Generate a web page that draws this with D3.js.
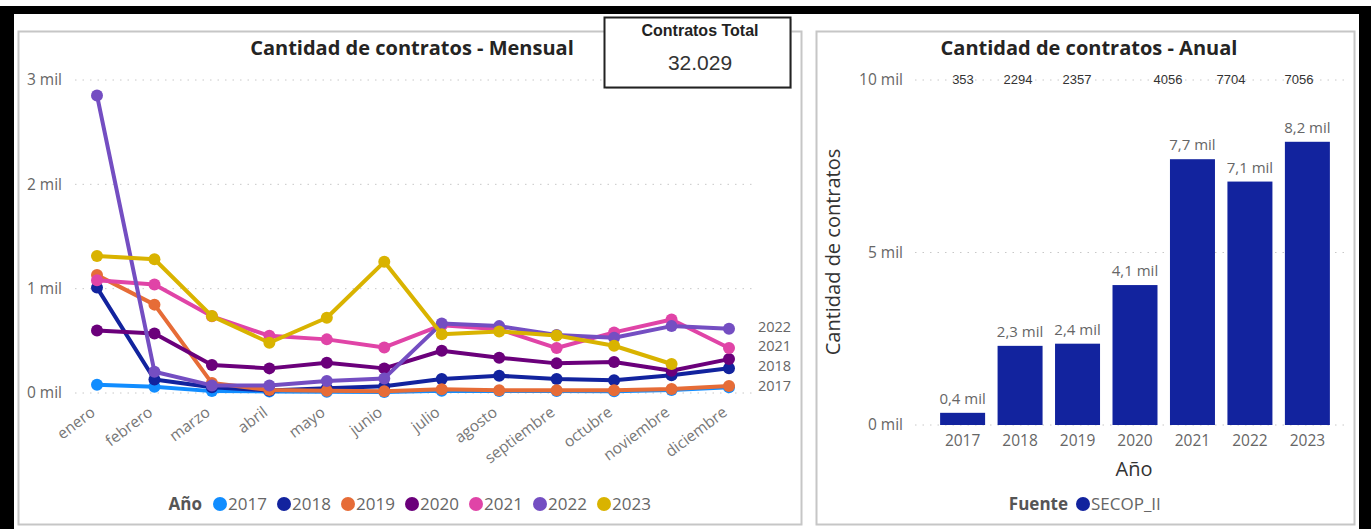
<!DOCTYPE html>
<html>
<head>
<meta charset="utf-8">
<script src="https://cdn.jsdelivr.net/npm/d3@7"></script>
<style>
body { margin: 0; background: #fff; }
text { font-family: "Open Sans", "Segoe UI", sans-serif; }
</style>
</head>
<body>
<svg id="tablero"></svg>
<script>

// datos
let meses = ["enero", "febrero", "marzo", "abril", "mayo", "junio", "julio",
  "agosto", "septiembre", "octubre", "noviembre", "diciembre"];
let anios = ["2017", "2018", "2019", "2020", "2021", "2022", "2023"];
let colores = ["#118DFF", "#12239E", "#E66C37", "#6B007B", "#E044A7", "#744EC2", "#D9B300"];

let m2017 = [80, 60, 18, 15, 12, 10, 22, 18, 18, 16, 28, 56];
let m2018 = [1010, 130, 55, 25, 45, 65, 135, 165, 135, 122, 170, 237];
let m2019 = [1130, 847, 95, 29, 22, 16, 35, 26, 26, 26, 38, 67];
let m2020 = [600, 571, 268, 236, 290, 236, 405, 338, 284, 297, 214, 325];
let m2021 = [1081, 1040, 735, 548, 514, 437, 650, 612, 431, 581, 705, 431];
let m2022 = [2852, 204, 73, 73, 115, 140, 667, 641, 555, 530, 641, 615];
let m2023 = [1314, 1282, 737, 482, 721, 1257, 562, 590, 552, 453, 278, null];

let totales = [353, 2294, 2357, 4056, 7704, 7056, 8209];
let filaSuperior = [353, 2294, 2357, 4056, 7704, 7056];
let etiquetasFin = ["2022", "2021", "2018", "2017"];
let ticksMensual = [0, 1000, 2000, 3000];
let ticksAnual = [0, 5000, 10000];

let series = [m2017, m2018, m2019, m2020, m2021, m2022, m2023];

let es = d3.formatLocale({decimal: ",", thousands: ".", grouping: [3], currency: ["$", ""]});
let fmtMil = v => es.format(".0f")(v / 1000) + " mil";
let fmtMilDec = v => es.format(".1f")(v / 1000) + " mil";

let svg = d3.select("#tablero")
  .attr("width", 1371)
  .attr("height", 529);

// marco negro
svg.append("rect").attr("x", 0).attr("y", 6).attr("width", 1371).attr("height", 523).attr("fill", "#000");
svg.append("rect").attr("x", 14).attr("y", 14).attr("width", 1345).attr("height", 515).attr("fill", "#fff");

// paneles
svg.append("rect").attr("x", 18.5).attr("y", 31.5).attr("width", 783).attr("height", 493)
  .attr("fill", "#fff").attr("stroke", "#c6c6c6").attr("stroke-width", 2);
svg.append("rect").attr("x", 816.5).attr("y", 31.5).attr("width", 538).attr("height", 493)
  .attr("fill", "#fff").attr("stroke", "#c6c6c6").attr("stroke-width", 2);

function titulo(txt, x)
{
  svg.append("text")
    .attr("x", x).attr("y", 55)
    .attr("text-anchor", "middle")
    .style("font-size", "20px")
    .style("font-weight", "bold")
    .style("fill", "#252423")
    .text(txt);
}

// ---------- grafico mensual ----------
let x = d3.scalePoint().domain(meses).range([97, 729]);
let y = d3.scaleLinear().domain([0, 3000]).range([393, 80]);

let gIzq = svg.append("g");

gIzq.selectAll(".grid")
  .data(ticksMensual)
  .enter().append("line")
  .attr("x1", 75).attr("x2", 752)
  .attr("y1", d => y(d)).attr("y2", d => y(d))
  .attr("stroke", "#c8c8c8")
  .attr("stroke-dasharray", "1.5,6");

gIzq.selectAll(".ytick")
  .data(ticksMensual)
  .enter().append("text")
  .attr("x", 62).attr("y", d => y(d))
  .attr("dy", "0.35em")
  .attr("text-anchor", "end")
  .style("font-size", "15.5px")
  .style("fill", "#666")
  .text(fmtMil);

gIzq.selectAll(".xtick")
  .data(meses)
  .enter().append("text")
  .attr("transform", d => `translate(${x(d) - 4}, ${y(0) + 17}) rotate(-37)`)
  .attr("text-anchor", "end")
  .attr("dy", "0.35em")
  .style("font-size", "15.5px")
  .style("fill", "#777")
  .text(d => d);

titulo("Cantidad de contratos - Mensual", 412);

let linea = d3.line()
  .defined(d => d != null)
  .x((d, i) => x(meses[i]))
  .y(d => y(d));

let gSerie = gIzq.selectAll(".serie")
  .data(series)
  .enter().append("g")
  .attr("class", "serie");

gSerie.append("path")
  .attr("d", d => linea(d))
  .attr("fill", "none")
  .attr("stroke", (d, i) => colores[i])
  .attr("stroke-width", 4)
  .attr("stroke-linejoin", "round");

gSerie.each(function(d, i) {
  d3.select(this).selectAll("circle")
    .data(d.map((v, j) => ({v: v, mes: meses[j]})).filter(p => p.v != null))
    .enter().append("circle")
    .attr("cx", p => x(p.mes))
    .attr("cy", p => y(p.v))
    .attr("r", 6)
    .attr("fill", colores[i]);
});

// etiquetas al final de la linea, separadas para que no se pisen
let finPos = etiquetasFin.map(d => {
  let s = series[anios.indexOf(d)];
  return {anio: d, y: y(s[s.length - 1]) - 2};
}).sort((a, b) => a.y - b.y);
for (let i = 1; i < finPos.length; i++) {
  if (finPos[i].y < finPos[i - 1].y + 19.5)
    finPos[i].y = finPos[i - 1].y + 19.5;
}

gIzq.selectAll(".fin")
  .data(finPos)
  .enter().append("text")
  .attr("x", 758)
  .attr("y", d => d.y)
  .attr("dy", "0.35em")
  .style("font-size", "14.5px")
  .style("fill", "#666")
  .text(d => d.anio);

// leyenda
gIzq.append("text")
  .attr("x", 202).attr("y", 504).attr("dy", "0.35em")
  .attr("text-anchor", "end")
  .style("font-size", "17px").style("font-weight", "bold").style("fill", "#555")
  .text("Año");

let leg = gIzq.selectAll(".leg")
  .data(anios)
  .enter().append("g")
  .attr("transform", (d, i) => `translate(${220 + i * 64}, 504)`);
leg.append("circle").attr("r", 7).attr("fill", (d, i) => colores[i]);
leg.append("text")
  .attr("x", 8).attr("dy", "0.35em")
  .style("font-size", "17px").style("fill", "#666")
  .text(d => d);

// ---------- tarjeta total ----------
svg.append("rect")
  .attr("x", 606).attr("y", 19).attr("width", 186).attr("height", 70)
  .attr("fill", "#bbb").attr("opacity", 0.5);
svg.append("rect")
  .attr("x", 604.5).attr("y", 17.5).attr("width", 186).attr("height", 70)
  .attr("fill", "#fff").attr("stroke", "#222").attr("stroke-width", 2);
svg.append("text")
  .attr("x", 700).attr("y", 36)
  .attr("text-anchor", "middle")
  .style("font-family", "'Liberation Sans', Arial, sans-serif")
  .style("font-size", "16px").style("font-weight", "bold").style("fill", "#222")
  .text("Contratos Total");
svg.append("text")
  .attr("x", 700).attr("y", 70)
  .attr("text-anchor", "middle")
  .style("font-family", "'Liberation Sans', Arial, sans-serif")
  .style("font-size", "21px").style("fill", "#333")
  .text(es.format(",")(d3.sum(totales)));

// ---------- grafico anual ----------
let xb = d3.scaleBand().domain(anios).range([920, 1350]).paddingInner(0.217).paddingOuter(0.35);
let yb = d3.scaleLinear().domain([0, 10000]).range([425, 80]);

let gDer = svg.append("g");

gDer.selectAll(".grid")
  .data(ticksAnual)
  .enter().append("line")
  .attr("x1", 915).attr("x2", 1350)
  .attr("y1", d => yb(d)).attr("y2", d => yb(d))
  .attr("stroke", "#c8c8c8")
  .attr("stroke-dasharray", "1.5,6");

gDer.selectAll(".ytick")
  .data(ticksAnual)
  .enter().append("text")
  .attr("x", 903).attr("y", d => yb(d))
  .attr("dy", "0.35em")
  .attr("text-anchor", "end")
  .style("font-size", "15.5px")
  .style("fill", "#666")
  .text(fmtMil);

titulo("Cantidad de contratos - Anual", 1089);

let filaX = [963, 1018, 1077, 1168, 1231, 1299];
gDer.selectAll(".fila")
  .data(filaSuperior)
  .enter().append("text")
  .attr("x", (d, i) => filaX[i]).attr("y", 79)
  .attr("dy", "0.35em")
  .attr("text-anchor", "middle")
  .style("font-family", "'Liberation Sans', Arial, sans-serif")
  .style("font-size", "13px")
  .style("fill", "#333")
  .text(d => d);

gDer.selectAll(".barra")
  .data(totales)
  .enter().append("rect")
  .attr("x", (d, i) => xb(anios[i]))
  .attr("y", d => yb(d))
  .attr("width", xb.bandwidth())
  .attr("height", d => yb(0) - yb(d))
  .attr("fill", "#12239E");

gDer.selectAll(".valor")
  .data(totales)
  .enter().append("text")
  .attr("x", (d, i) => xb(anios[i]) + xb.bandwidth() / 2)
  .attr("y", d => yb(d) - 9)
  .attr("text-anchor", "middle")
  .style("font-size", "15px")
  .style("fill", "#666")
  .text(fmtMilDec);

gDer.selectAll(".xtick")
  .data(anios)
  .enter().append("text")
  .attr("x", d => xb(d) + xb.bandwidth() / 2)
  .attr("y", 441)
  .attr("dy", "0.35em")
  .attr("text-anchor", "middle")
  .style("font-size", "15.5px")
  .style("fill", "#666")
  .text(d => d);

gDer.append("text")
  .attr("x", 1134).attr("y", 469).attr("dy", "0.35em")
  .attr("text-anchor", "middle")
  .style("font-size", "20px").style("fill", "#333")
  .text("Año");

gDer.append("text")
  .attr("transform", "translate(833, 252) rotate(-90)")
  .attr("dy", "0.35em")
  .attr("text-anchor", "middle")
  .style("font-size", "20px").style("fill", "#333")
  .text("Cantidad de contratos");

gDer.append("text")
  .attr("x", 1068).attr("y", 504).attr("dy", "0.35em")
  .attr("text-anchor", "end")
  .style("font-size", "17px").style("font-weight", "bold").style("fill", "#555")
  .text("Fuente");
gDer.append("circle").attr("cx", 1083).attr("cy", 504).attr("r", 7).attr("fill", "#12239E");
gDer.append("text")
  .attr("x", 1091).attr("y", 504).attr("dy", "0.35em")
  .style("font-size", "17px").style("fill", "#666")
  .text("SECOP_II");

</script>
</body>
</html>
